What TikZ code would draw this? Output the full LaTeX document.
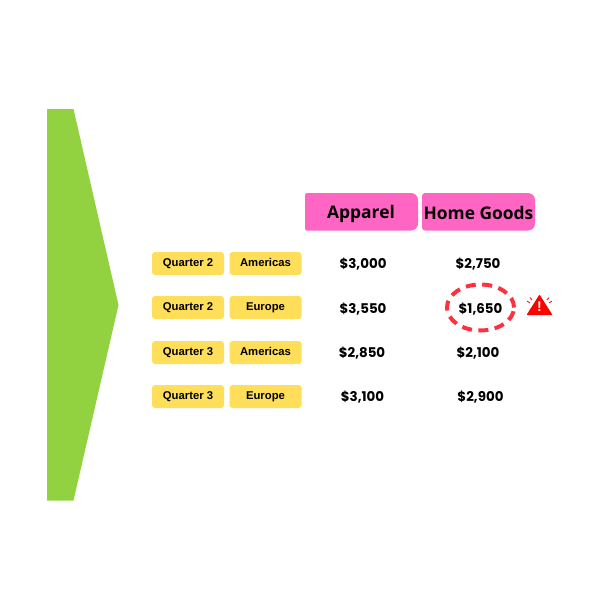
\documentclass[tikz,border=0pt]{standalone}
\usepackage{fontspec}
\setmainfont{Liberation Sans}
\newfontfamily\pricefont{Poppins}
\newfontfamily\headfont{Open Sans}
\usetikzlibrary{shapes.geometric}
\definecolor{arrowgreen}{HTML}{92D240}
\definecolor{headpink}{HTML}{FF66C4}
\definecolor{tagyellow}{HTML}{FFDE59}
\definecolor{alertred}{HTML}{FF3140}
\tikzset{
  tag/.style={fill=tagyellow,rounded corners=3pt,minimum width=72pt,minimum height=23pt,inner sep=0pt,text height=8pt,text depth=2pt,font=\fontsize{11.3}{12}\selectfont\bfseries},
  price/.style={inner sep=0pt,font=\pricefont\fontsize{13.4}{15}\selectfont\bfseries},
  head/.style={inner sep=0pt,font=\headfont\fontsize{17.4}{20}\selectfont\bfseries},
}

\begin{document}
\begin{tikzpicture}[x=1pt,y=-1pt]
    \useasboundingbox (0,0) rectangle (600,600);
    \fill[arrowgreen] (47,109) -- (73.5,109) -- (118.5,305) -- (73.5,500.5) -- (47,500.5) -- cycle;

    \fill[headpink,rounded corners=1.5pt] (305,230.5) -- (305,193) [rounded corners=7pt] -- (418,193) -- (418,230.5) [rounded corners=1.5pt] -- cycle;
    \fill[headpink,rounded corners=3pt] (422,230.5) -- (422,193) [rounded corners=7pt] -- (535,193) -- (535,230.5) [rounded corners=3pt] -- cycle;
    \node[head] (apparel) at (361,213.5) {Apparel};
    \node[head] (home) at (478.5,212.5) {Home Goods};

    \node[tag] (q1) at (188,263.5) {Quarter 2};
    \node[tag] (r1) at (265.5,263.5) {Americas};
    \node[tag] (q2) at (188,307.5) {Quarter 2};
    \node[tag] (r2) at (265.5,307.5) {Europe};
    \node[tag] (q3) at (188,352.5) {Quarter 3};
    \node[tag] (r3) at (265.5,352.5) {Americas};
    \node[tag] (q4) at (188,396.5) {Quarter 3};
    \node[tag] (r4) at (265.5,396.5) {Europe};

    \node[price] (a1) at (363,264) {\$3,000};
    \node[price] (a2) at (363,309) {\$3,550};
    \node[price] (a3) at (362,353) {\$2,850};
    \node[price] (a4) at (362.5,397) {\$3,100};
    \node[price] (h1) at (478,264) {\$2,750};
    \node[price] (h2) at (480.5,309) {\$1,650};
    \node[price] (h3) at (478,353) {\$2,100};
    \node[price] (h4) at (480.5,397) {\$2,900};

    % dashed ring and warning sign
    \draw[alertred,line width=4pt,dash pattern=on 10pt off 6.5pt] (480.5,307.5) ellipse (33.5pt and 23pt);
    \fill[red,rounded corners=0.8pt] (539.5,294.5) -- (552.5,315) -- (526.5,315) -- cycle;
    \node[text=white,inner sep=0pt,font=\fontsize{14}{14}\selectfont\bfseries] (mark) at (539.5,306.5) {!};
    \draw[red,line width=0.8pt]
      (530,303) -- (527,301)
      (532,300) -- (530,297.5)
      (549,303) -- (552,301)
      (547,300) -- (549,297.5);
\end{tikzpicture}
\end{document}
